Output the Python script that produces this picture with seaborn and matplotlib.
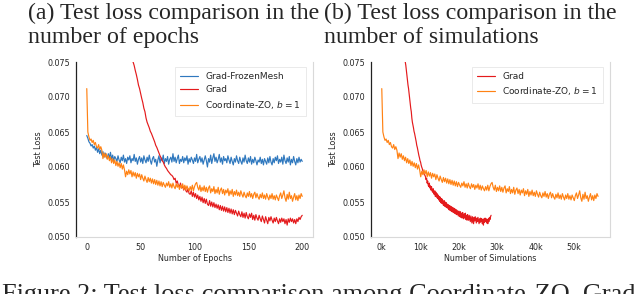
import numpy as np
import pandas as pd
import matplotlib
matplotlib.use("Agg")
import matplotlib.pyplot as plt
from matplotlib.ticker import FuncFormatter
import seaborn as sns

# ---------------- data ----------------
epochs = list(range(0, 201))

grad_frozenmesh = [
    0.0645, 0.0641, 0.0636, 0.0634, 0.0630, 0.0632, 0.0627, 0.0630, 0.0624, 0.0628,
    0.0621, 0.0626, 0.0619, 0.0624, 0.0617, 0.0622, 0.0614, 0.0620, 0.0616, 0.0612,
    0.0619, 0.0613, 0.0621, 0.0611, 0.0617, 0.0609, 0.0615, 0.0612, 0.0608, 0.0616,
    0.0610, 0.0606, 0.0614, 0.0609, 0.0617, 0.0607, 0.0612, 0.0605, 0.0614, 0.0610,
    0.0616, 0.0606, 0.0612, 0.0609, 0.0618, 0.0608, 0.0613, 0.0604, 0.0611, 0.0615,
    0.0607, 0.0613, 0.0605, 0.0616, 0.0610, 0.0606, 0.0614, 0.0608, 0.0617, 0.0609,
    0.0604, 0.0612, 0.0615, 0.0607, 0.0611, 0.0601, 0.0610, 0.0616, 0.0606, 0.0613,
    0.0609, 0.0617, 0.0605, 0.0612, 0.0608, 0.0615, 0.0604, 0.0611, 0.0614, 0.0607,
    0.0619, 0.0608, 0.0614, 0.0606, 0.0612, 0.0617, 0.0605, 0.0611, 0.0608, 0.0615,
    0.0606, 0.0613, 0.0609, 0.0616, 0.0604, 0.0612, 0.0607, 0.0614, 0.0610, 0.0605,
    0.0613, 0.0608, 0.0618, 0.0606, 0.0611, 0.0615, 0.0607, 0.0613, 0.0604, 0.0610,
    0.0616, 0.0609, 0.0600, 0.0612, 0.0607, 0.0617, 0.0605, 0.0613, 0.0619, 0.0608,
    0.0614, 0.0606, 0.0611, 0.0618, 0.0607, 0.0613, 0.0604, 0.0615, 0.0609, 0.0612,
    0.0606, 0.0616, 0.0610, 0.0605, 0.0614, 0.0608, 0.0603, 0.0612, 0.0607, 0.0616,
    0.0609, 0.0605, 0.0614, 0.0608, 0.0604, 0.0613, 0.0607, 0.0617, 0.0609, 0.0605,
    0.0613, 0.0607, 0.0615, 0.0604, 0.0611, 0.0606, 0.0614, 0.0609, 0.0603, 0.0610,
    0.0607, 0.0614, 0.0605, 0.0611, 0.0603, 0.0612, 0.0608, 0.0604, 0.0613, 0.0606,
    0.0615, 0.0607, 0.0603, 0.0612, 0.0606, 0.0614, 0.0609, 0.0616, 0.0605, 0.0611,
    0.0607, 0.0614, 0.0604, 0.0617, 0.0609, 0.0605, 0.0613, 0.0607, 0.0615, 0.0603,
    0.0611, 0.0606, 0.0615, 0.0608, 0.0603, 0.0612, 0.0606, 0.0614, 0.0607, 0.0611,
    0.0608,
]

grad = [
    0.1400, 0.1370, 0.1340, 0.1310, 0.1282, 0.1254, 0.1227, 0.1200, 0.1175, 0.1150,
    0.1126, 0.1102, 0.1080, 0.1058, 0.1037, 0.1017, 0.0998, 0.0979, 0.0961, 0.0944,
    0.0928, 0.0912, 0.0897, 0.0883, 0.0869, 0.0856, 0.0844, 0.0833, 0.0822, 0.0812,
    0.0803, 0.0795, 0.0788, 0.0782, 0.0777, 0.0772, 0.0768, 0.0765, 0.0762, 0.0759,
    0.0757, 0.0754, 0.0752, 0.0750, 0.0745, 0.0738, 0.0732, 0.0725, 0.0717, 0.0712,
    0.0705, 0.0698, 0.0692, 0.0684, 0.0679, 0.0670, 0.0664, 0.0660, 0.0656, 0.0651,
    0.0648, 0.0644, 0.0640, 0.0636, 0.0631, 0.0628, 0.0624, 0.0620, 0.0616, 0.0613,
    0.0609, 0.0607, 0.0603, 0.0600, 0.0598, 0.0595, 0.0593, 0.0591, 0.0589, 0.0588,
    0.0586, 0.0582, 0.0584, 0.0577, 0.0580, 0.0574, 0.0572, 0.0577, 0.0570, 0.0573,
    0.0567, 0.0572, 0.0566, 0.0564, 0.0569, 0.0562, 0.0561, 0.0566, 0.0558, 0.0564,
    0.0557, 0.0562, 0.0555, 0.0560, 0.0553, 0.0558, 0.0551, 0.0557, 0.0549, 0.0555,
    0.0548, 0.0554, 0.0547, 0.0545, 0.0552, 0.0544, 0.0550, 0.0543, 0.0549, 0.0542,
    0.0547, 0.0541, 0.0546, 0.0539, 0.0545, 0.0538, 0.0544, 0.0537, 0.0543, 0.0536,
    0.0542, 0.0535, 0.0541, 0.0534, 0.0540, 0.0533, 0.0539, 0.0532, 0.0538, 0.0534,
    0.0530, 0.0537, 0.0532, 0.0529, 0.0536, 0.0528, 0.0534, 0.0527, 0.0535, 0.0529,
    0.0526, 0.0533, 0.0528, 0.0534, 0.0525, 0.0531, 0.0524, 0.0532, 0.0527, 0.0524,
    0.0531, 0.0526, 0.0522, 0.0530, 0.0525, 0.0520, 0.0529, 0.0524, 0.0519, 0.0528,
    0.0523, 0.0529, 0.0524, 0.0520, 0.0527, 0.0522, 0.0528, 0.0523, 0.0519, 0.0526,
    0.0521, 0.0527, 0.0522, 0.0526, 0.0519, 0.0525, 0.0517, 0.0526, 0.0521, 0.0527,
    0.0522, 0.0526, 0.0520, 0.0525, 0.0519, 0.0526, 0.0522, 0.0528, 0.0525, 0.0529,
    0.0531,
]

coordinate_zo = [
    0.0712, 0.0650, 0.0643, 0.0638, 0.0640, 0.0635, 0.0638, 0.0632, 0.0635, 0.0629,
    0.0627, 0.0632, 0.0625, 0.0629, 0.0624, 0.0612, 0.0620, 0.0614, 0.0619, 0.0611,
    0.0616, 0.0609, 0.0614, 0.0606, 0.0612, 0.0605, 0.0610, 0.0602, 0.0608, 0.0601,
    0.0606, 0.0599, 0.0605, 0.0597, 0.0603, 0.0596, 0.0586, 0.0594, 0.0589, 0.0596,
    0.0590, 0.0595, 0.0586, 0.0593, 0.0587, 0.0592, 0.0584, 0.0591, 0.0586, 0.0590,
    0.0582, 0.0589, 0.0584, 0.0580, 0.0587, 0.0582, 0.0578, 0.0585, 0.0579, 0.0584,
    0.0577, 0.0583, 0.0576, 0.0582, 0.0575, 0.0581, 0.0574, 0.0580, 0.0573, 0.0579,
    0.0572, 0.0578, 0.0574, 0.0571, 0.0577, 0.0573, 0.0579, 0.0571, 0.0576, 0.0570,
    0.0577, 0.0572, 0.0569, 0.0576, 0.0571, 0.0575, 0.0568, 0.0574, 0.0570, 0.0576,
    0.0568, 0.0574, 0.0567, 0.0573, 0.0569, 0.0566, 0.0572, 0.0567, 0.0574, 0.0566,
    0.0572, 0.0576, 0.0578, 0.0571, 0.0567, 0.0574, 0.0565, 0.0571, 0.0566, 0.0573,
    0.0565, 0.0571, 0.0564, 0.0570, 0.0573, 0.0563, 0.0569, 0.0565, 0.0572, 0.0562,
    0.0568, 0.0563, 0.0571, 0.0561, 0.0567, 0.0570, 0.0562, 0.0568, 0.0560, 0.0567,
    0.0563, 0.0569, 0.0559, 0.0566, 0.0561, 0.0568, 0.0558, 0.0565, 0.0560, 0.0567,
    0.0559, 0.0564, 0.0558, 0.0566, 0.0561, 0.0557, 0.0564, 0.0559, 0.0556, 0.0563,
    0.0558, 0.0565, 0.0557, 0.0562, 0.0555, 0.0561, 0.0564, 0.0556, 0.0562, 0.0557,
    0.0554, 0.0561, 0.0556, 0.0563, 0.0555, 0.0560, 0.0554, 0.0562, 0.0557, 0.0553,
    0.0560, 0.0555, 0.0562, 0.0554, 0.0559, 0.0553, 0.0560, 0.0556, 0.0552, 0.0559,
    0.0563, 0.0555, 0.0560, 0.0566, 0.0556, 0.0551, 0.0561, 0.0554, 0.0564, 0.0555,
    0.0559, 0.0551, 0.0557, 0.0562, 0.0553, 0.0559, 0.0552, 0.0560, 0.0555, 0.0562,
    0.0558,
]

# simulations consumed per epoch by each method
sims_per_epoch_grad = 142
sims_per_epoch_zo = 281

labels = ["Grad-FrozenMesh", "Grad", "Coordinate-ZO, $b=1$"]
colors = ["#2f78be", "#e41a1c", "#ff8214"]
y_ticks = [0.050, 0.055, 0.060, 0.065, 0.070, 0.075]
x_ticks_a = [0, 50, 100, 150, 200]
x_ticks_b = [0, 10000, 20000, 30000, 40000, 50000]

# ---------------- style ----------------
sns.set_style("white")
plt.rcParams["font.family"] = ["DejaVu Sans"]

df_a = pd.DataFrame({
    "x": epochs * 3,
    "y": grad_frozenmesh + grad + coordinate_zo,
    "method": [labels[0]] * 201 + [labels[1]] * 201 + [labels[2]] * 201,
})
df_b = pd.DataFrame({
    "x": [e * sims_per_epoch_grad for e in epochs] + [e * sims_per_epoch_zo for e in epochs],
    "y": grad + coordinate_zo,
    "method": [labels[1]] * 201 + [labels[2]] * 201,
})

fig = plt.figure(figsize=(6.4, 2.94), dpi=100)
W, H = 640, 294
ax1 = fig.add_axes([76 / W, 1 - 237 / H, 237 / W, 175 / H])
ax2 = fig.add_axes([371 / W, 1 - 237 / H, 239 / W, 175 / H])

palette = dict(zip(labels, colors))
sns.lineplot(data=df_a, x="x", y="y", hue="method", palette=palette,
             hue_order=labels, ax=ax1, linewidth=0.85)
sns.lineplot(data=df_b, x="x", y="y", hue="method", palette=palette,
             hue_order=labels[1:], ax=ax2, linewidth=0.85)

fs = 5.8
for ax, xl, xt in [(ax1, "Number of Epochs", x_ticks_a), (ax2, "Number of Simulations", x_ticks_b)]:
    ax.set_ylim(0.050, 0.075)
    ax.set_yticks(y_ticks)
    ax.set_yticklabels([f"{v:.3f}" for v in y_ticks], fontsize=fs)
    ax.set_xticks(xt)
    ax.set_xlabel(xl, fontsize=fs, labelpad=2)
    ax.set_ylabel("Test Loss", fontsize=fs, labelpad=3)
    ax.tick_params(axis="x", labelsize=fs, length=2.5, width=0.6, color="#aaaaaa", pad=1.5)
    ax.tick_params(axis="y", labelsize=fs, length=2.5, width=0.6, color="#222222", pad=1.5)
    for s in ["bottom", "right"]:
        ax.spines[s].set_color("#d9d9d9")
        ax.spines[s].set_linewidth(0.8)
    ax.spines["top"].set_visible(False)
    ax.spines["left"].set_color("#222222")
    ax.spines["left"].set_linewidth(0.9)
    leg = ax.legend(loc="upper right", fontsize=6.5, frameon=True, fancybox=False,
                    handlelength=2.0, borderpad=0.6, labelspacing=0.5,
                    bbox_to_anchor=(0.99, 1.0))
    leg.get_frame().set_edgecolor("#e0e0e0")
    leg.get_frame().set_linewidth(0.6)

ax1.set_xlim(-10, 210)
ax2.set_xlim(-2800, 59300)
ax2.xaxis.set_major_formatter(FuncFormatter(lambda v, p: f"{int(round(v / 1000))}k"))

serif = ["Liberation Serif", "DejaVu Serif"]
tfs = 17.2
fig.text(28 / W, 1 - 19 / H, "(a) Test loss comparison in the", fontsize=tfs, family=serif, va="baseline")
fig.text(28 / W, 1 - 43 / H, "number of epochs", fontsize=tfs, family=serif, va="baseline")
fig.text(324 / W, 1 - 19 / H, "(b) Test loss comparison in the", fontsize=tfs, family=serif, va="baseline")
fig.text(324 / W, 1 - 43 / H, "number of simulations", fontsize=tfs, family=serif, va="baseline")
fig.text(2 / W, 1 - 301 / H, "Figure 2: Test loss comparison among Coordinate-ZO, Grad",
         fontsize=18.9, family=serif, va="baseline")

fig.savefig("out.png", dpi=100)
